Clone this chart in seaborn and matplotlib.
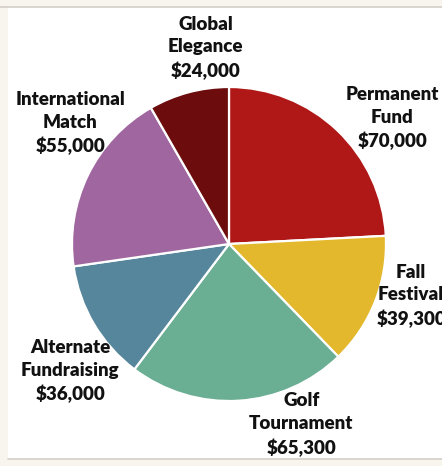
import numpy as np
import pandas as pd
import seaborn as sns
import matplotlib.pyplot as plt
from matplotlib.patches import Rectangle
from matplotlib.lines import Line2D

# fundraising sources, clockwise from 12 o'clock
sources = ['Permanent\nFund', 'Fall\nFestival', 'Golf\nTournament',
           'Alternate\nFundraising', 'International\nMatch', 'Global\nElegance']
amounts = [70000, 39300, 65300, 36000, 55000, 24000]
colors = ['#b01818', '#e4b82c', '#6aae93', '#55869c', '#9f66a0', '#6c0c0c']

# label centres (pie radius units), Excel style "best fit"
label_pos = [(1.04, 0.80), (1.16, -0.33), (0.46, -1.15),
             (-1.01, -0.81), (-1.01, 0.77), (-0.15, 1.25)]

df = pd.DataFrame({'source': sources, 'amount': amounts})

sns.set_theme(style='white')
plt.rcParams['font.family'] = ['Lato', 'DejaVu Sans']

W, H = 442, 466
fig = plt.figure(figsize=(W / 100, H / 100), dpi=100)
fig.patch.set_facecolor('#f8f5ee')

# white chart panel with thin rules top and bottom
panel = Rectangle((8 / W, 1 - 459 / H), 1, (459 - 7) / H,
                  transform=fig.transFigure, facecolor='white',
                  edgecolor='none', zorder=-5)
fig.add_artist(panel)
fig.add_artist(Line2D([0, 1], [1 - 7 / H] * 2, transform=fig.transFigure,
                      color='#d3cfc8', linewidth=1.2, zorder=-4))
fig.add_artist(Line2D([8 / W, 1], [1 - 459 / H] * 2, transform=fig.transFigure,
                      color='#d3cfc8', linewidth=1.2, zorder=-4))

ax = fig.add_axes([0, 0, 1, 1])
ax.set_facecolor('none')
ax.set_zorder(2)
R = 157
cx, cy = 229, 244

wedges, _ = ax.pie(df['amount'], colors=colors, startangle=90, counterclock=False,
                   radius=1, wedgeprops=dict(edgecolor='white', linewidth=1.6))

for (x, y), name, val in zip(label_pos, df['source'], df['amount']):
    ax.text(x, y, f'{name}\n${val:,.0f}', ha='center', va='center',
            fontsize=13.5, fontweight='heavy', color='#111111', linespacing=1.4)

ax.set_xlim(-cx / R, (W - cx) / R)
ax.set_ylim(-(H - cy) / R, cy / R)
ax.set_aspect('auto')
ax.axis('off')

fig.savefig('out.png', dpi=100)
